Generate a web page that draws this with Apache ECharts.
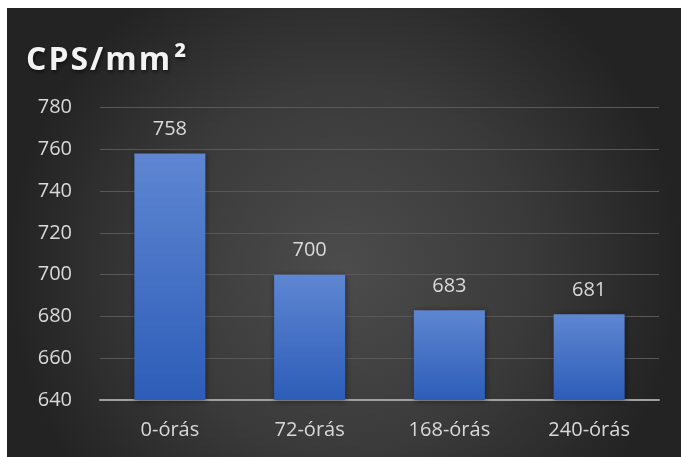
<!DOCTYPE html>
<html>
<head>
<meta charset="utf-8">
<script src="https://cdn.jsdelivr.net/npm/echarts@6/dist/echarts.min.js"></script>
<style>
  html, body { margin: 0; padding: 0; background: #ffffff; }
  #chart { width: 681px; height: 457px; }
</style>
</head>
<body>
<div id="chart"></div>
<script>
// Measurement times and counts per square millimetre
const categories = ['0-órás', '72-órás', '168-órás', '240-órás'];
const cpsValues = [758, 700, 683, 681];
const yTicks = [640, 660, 680, 700, 720, 740, 760, 780];
const titleText = 'CPS/mm²';

const FONT = '"Open Sans", "Noto Sans", sans-serif';

// Spread the title letters apart: each character is its own rich segment with side padding;
// the superscript gets a slightly wider gap in front of it
const spacedTitle = Array.from(titleText)
  .map(ch => (ch === '²' ? '{s|' : '{c|') + ch + '}')
  .join('');

const titleGlyph = {
  fontFamily: FONT,
  fontSize: 32,
  fontWeight: 'bold',
  color: '#f2f2f2',
  padding: [0, 1, 0, 1],
  textShadowColor: 'rgba(0,0,0,0.6)',
  textShadowBlur: 4,
  textShadowOffsetX: 1,
  textShadowOffsetY: 2
};

const chart = echarts.init(document.getElementById('chart'), null, { renderer: 'canvas' });

chart.setOption({
  backgroundColor: '#ffffff',
  animation: false,
  graphic: [{
    type: 'rect',
    z: -10,
    silent: true,
    shape: { x: 7, y: 8, width: 674, height: 449 },
    style: {
      fill: new echarts.graphic.RadialGradient(0.5, 0.58, 0.75, [
        { offset: 0, color: '#4c4c4c' },
        { offset: 0.55, color: '#3a3a3a' },
        { offset: 1, color: '#232323' }
      ])
    }
  }],
  title: {
    text: spacedTitle,
    left: 20,
    top: 40,
    textStyle: {
      rich: {
        c: titleGlyph,
        s: Object.assign({}, titleGlyph, { padding: [0, 0, 0, 3] })
      }
    }
  },
  grid: { left: 100, right: 22, top: 107.5, bottom: 57, containLabel: false },
  xAxis: {
    type: 'category',
    data: categories,
    axisLine: { show: true, lineStyle: { color: '#a0a0a0', width: 2 } },
    axisTick: { show: false },
    axisLabel: { color: '#d9d9d9', fontFamily: FONT, fontSize: 20, margin: 20 }
  },
  yAxis: {
    type: 'value',
    min: yTicks[0],
    max: yTicks[yTicks.length - 1],
    interval: yTicks[1] - yTicks[0],
    axisLine: { show: false },
    axisTick: { show: false },
    axisLabel: { color: '#d9d9d9', fontFamily: FONT, fontSize: 20, margin: 28 },
    splitLine: { lineStyle: { color: '#585858', width: 1 } }
  },
  series: [{
    type: 'bar',
    data: cpsValues,
    barWidth: 71,
    itemStyle: {
      color: new echarts.graphic.LinearGradient(0, 0, 0, 1, [
        { offset: 0, color: '#5e86d2' },
        { offset: 1, color: '#2d5db8' }
      ]),
      shadowColor: 'rgba(0,0,0,0.45)',
      shadowBlur: 6,
      shadowOffsetX: 1,
      shadowOffsetY: 1
    },
    label: {
      show: true,
      position: 'top',
      distance: 14,
      color: '#d9d9d9',
      fontFamily: FONT,
      fontSize: 20
    }
  }]
});
</script>
</body>
</html>
